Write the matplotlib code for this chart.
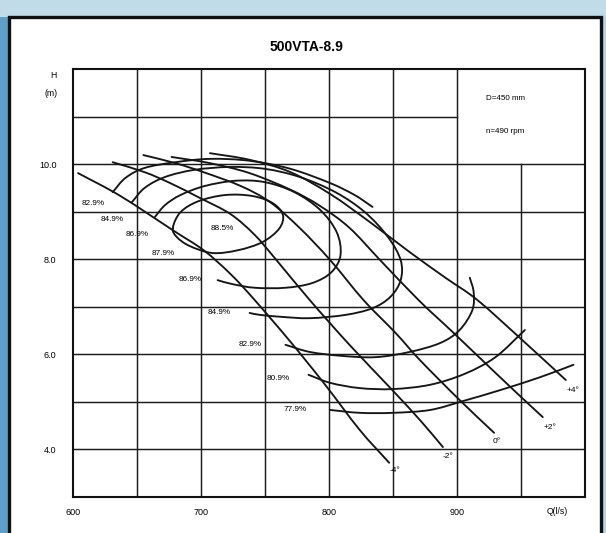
import numpy as np
import matplotlib
matplotlib.use("Agg")
import matplotlib.pyplot as plt
from matplotlib.path import Path
from matplotlib.patches import PathPatch, Rectangle

plt.rcParams['font.family'] = ['Liberation Sans', 'DejaVu Sans']

# ---------------- data ----------------
title = "500VTA-8.9"
x_ticks = [600, 700, 800, 900]
x_tick_labels = ["600", "700", "800", "900"]
y_ticks = [4.0, 6.0, 8.0, 10.0]
y_tick_labels = ["4.0", "6.0", "8.0", "10.0"]
pump_info = ["D=450 mm", "n=490 rpm"]

# H-Q curves for blade angles
angle_labels = ["-4°", "-2°", "0°", "+2°", "+4°"]
q_m4 = [604, 637, 678, 702, 723, 742, 770, 797, 824, 847]
h_m4 = [9.81, 9.33, 8.61, 8.19, 7.69, 7.14, 6.26, 5.36, 4.41, 3.72]
q_m2 = [631, 656, 676, 699, 723, 742, 759, 785, 816, 848, 871, 889]
h_m2 = [10.04, 9.83, 9.60, 9.29, 8.95, 8.51, 7.98, 7.14, 6.20, 5.29, 4.62, 4.05]
q_0 = [655, 680, 702, 731, 754, 777, 801, 827, 852, 871, 902, 929]
h_0 = [10.19, 10.02, 9.83, 9.54, 9.20, 8.66, 7.98, 7.14, 6.45, 5.88, 5.04, 4.35]
q_p2 = [677, 707, 738, 770, 793, 816, 840, 870, 895, 918, 945, 967]
h_p2 = [10.15, 10.02, 9.81, 9.46, 9.12, 8.66, 7.98, 7.14, 6.51, 5.92, 5.23, 4.68]
q_p4 = [707, 738, 770, 801, 832, 863, 891, 916, 951, 985]
h_p4 = [10.23, 10.09, 9.83, 9.37, 8.78, 8.15, 7.61, 7.14, 6.30, 5.46]

# efficiency contours
q_885 = [678, 684, 698, 719, 740, 756, 764, 761, 748, 729, 709, 691, 681]
h_885 = [8.66, 8.99, 9.22, 9.35, 9.33, 9.18, 8.93, 8.64, 8.36, 8.19, 8.13, 8.28, 8.47]
q_869 = [664, 672, 684, 703, 727, 750, 773, 793, 806, 809, 802, 787, 766, 742, 724, 713]
h_869 = [8.89, 9.14, 9.35, 9.54, 9.65, 9.62, 9.41, 9.04, 8.57, 8.09, 7.73, 7.50, 7.40, 7.40, 7.48, 7.56]
q_849 = [646, 656, 672, 695, 723, 750, 777, 805, 828, 846, 856, 856, 848, 834, 813, 785, 762, 746, 738]
h_849 = [9.20, 9.50, 9.73, 9.88, 9.94, 9.90, 9.73, 9.41, 8.99, 8.47, 7.98, 7.56, 7.21, 6.97, 6.83, 6.76, 6.79, 6.83, 6.87]
q_829_up = [631, 641, 656, 680, 707, 738, 770, 801, 820, 834]
h_829_up = [9.41, 9.71, 9.92, 10.04, 10.11, 10.07, 9.90, 9.60, 9.35, 9.10]
q_829_lo = [766, 785, 809, 836, 863, 887, 902, 912, 913, 910]
h_829_lo = [6.20, 6.05, 5.97, 5.94, 6.05, 6.24, 6.51, 6.93, 7.31, 7.61]
q_809 = [784, 801, 824, 850, 879, 906, 930, 953]
h_809 = [5.57, 5.40, 5.29, 5.27, 5.36, 5.59, 5.94, 6.51]
q_779 = [801, 824, 850, 879, 905, 934, 965, 991]
h_779 = [4.83, 4.77, 4.77, 4.83, 5.02, 5.25, 5.52, 5.78]

eff_labels = ["82.9%", "84.9%", "86.9%", "87.9%", "88.5%",
              "86.9%", "84.9%", "82.9%", "80.9%", "77.9%"]

# ---------------- figure ----------------
W, Hpx = 606, 533
fig = plt.figure(figsize=(W / 100, Hpx / 100), dpi=100)
fig.patch.set_facecolor('#b4d2e2')

def fx(px):
    return px / W

def fy(py):
    return 1 - py / Hpx

# background strips and white panel
fig.add_artist(Rectangle((0, 0), fx(9), 1, transform=fig.transFigure,
                         facecolor='#5d9fca', edgecolor='none', zorder=0))
fig.add_artist(Rectangle((0, fy(17)), 1, 1 - fy(17), transform=fig.transFigure,
                         facecolor='#c2dbe8', edgecolor='none', zorder=0))
fig.add_artist(Rectangle((fx(9), -0.05), fx(601) - fx(9), fy(17) + 0.05,
                         transform=fig.transFigure, facecolor='white',
                         edgecolor='#111111', linewidth=2.4, zorder=1))

ax = fig.add_axes([fx(73), fy(497), fx(585) - fx(73), fy(69) - fy(497)])
ax.set_facecolor('white')
ax.set_zorder(2)
ax.set_xlim(600, 1000)
ax.set_ylim(3, 12)
for s in ax.spines.values():
    s.set_linewidth(1.5)
    s.set_color('#111111')

# grid (with the info box in the upper right)
gkw = dict(color='#1c1c1c', linewidth=1.05, zorder=1)
for q in [650, 700, 750, 800, 850, 900]:
    ax.plot([q, q], [3, 12], **gkw)
ax.plot([950, 950], [3, 10], **gkw)
for h in [4, 5, 6, 7, 8, 9, 10]:
    ax.plot([600, 1000], [h, h], **gkw)
ax.plot([600, 900], [11, 11], **gkw)

ax.set_xticks(x_ticks)
ax.set_xticklabels(x_tick_labels, fontsize=6.5)
ax.set_yticks(y_ticks)
ax.set_yticklabels(y_tick_labels, fontsize=6.5)
ax.tick_params(axis='both', length=0)
ax.tick_params(axis='x', pad=8)
ax.tick_params(axis='y', pad=12)


def smooth_curve(qs, hs, closed=False, lw=1.35):
    pts = np.column_stack([qs, hs]).astype(float)
    if closed:
        ext = np.vstack([pts[-1], pts, pts[0], pts[1]])
        rng = range(1, len(pts) + 1)
    else:
        ext = np.vstack([2 * pts[0] - pts[1], pts, 2 * pts[-1] - pts[-2]])
        rng = range(1, len(pts))
    verts = [tuple(ext[1])]
    codes = [Path.MOVETO]
    for i in rng:
        p0, p1, p2, p3 = ext[i - 1], ext[i], ext[i + 1], ext[i + 2]
        c1 = p1 + (p2 - p0) / 6.0
        c2 = p2 - (p3 - p1) / 6.0
        verts += [tuple(c1), tuple(c2), tuple(p2)]
        codes += [Path.CURVE4] * 3
    ax.add_patch(PathPatch(Path(verts, codes), fill=False,
                           edgecolor='#151515', linewidth=lw,
                           capstyle='round', joinstyle='round', zorder=3))


# H-Q curves
for qs, hs in [(q_m4, h_m4), (q_m2, h_m2), (q_0, h_0), (q_p2, h_p2), (q_p4, h_p4)]:
    smooth_curve(qs, hs)

# efficiency curves
smooth_curve(q_885, h_885, closed=True)
for qs, hs in [(q_869, h_869), (q_849, h_849), (q_829_up, h_829_up),
               (q_829_lo, h_829_lo), (q_809, h_809), (q_779, h_779)]:
    smooth_curve(qs, hs)

# labels
eff_pos = [(615.5, 9.18), (630.5, 8.83), (650.0, 8.51), (670.3, 8.11), (716.4, 8.64),
           (691.4, 7.58), (714.1, 6.87), (738.3, 6.20), (760.2, 5.50), (773.4, 4.85)]
for lab, (q, h) in zip(eff_labels, eff_pos):
    ax.text(q, h, lab, fontsize=5.9, ha='center', va='center', zorder=4)

ang_pos = [(851.6, 3.55), (893.0, 3.86), (931.3, 4.16), (972.7, 4.47), (990.6, 5.25)]
for lab, (q, h) in zip(angle_labels, ang_pos):
    ax.text(q, h, lab, fontsize=6, ha='center', va='center', zorder=4)

ax.text(922.7, 11.37, pump_info[0], fontsize=5.8, ha='left', va='center')
ax.text(922.7, 10.68, pump_info[1], fontsize=5.8, ha='left', va='center')

fig.text(fx(307), fy(47), title, fontsize=10, fontweight='bold',
         ha='center', va='center', zorder=5)
fig.text(fx(53), fy(75), "H", fontsize=6.2, ha='center', va='center', zorder=5)
fig.text(fx(51), fy(93), "(m)", fontsize=6.2, ha='center', va='center', zorder=5)
fig.text(fx(557), fy(512), "Q(l/s)", fontsize=6.2, ha='center', va='center', zorder=5)

fig.savefig("out.png", dpi=100, facecolor=fig.get_facecolor())
